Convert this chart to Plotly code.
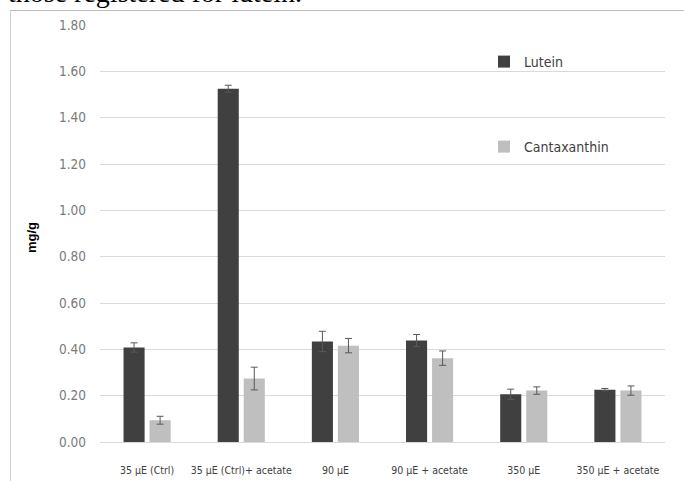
import plotly.graph_objects as go

categories = ["35 µE (Ctrl)", "35 µE (Ctrl)+ acetate", "90 µE", "90 µE + acetate", "350 µE", "350 µE + acetate"]
lutein = [0.408, 1.525, 0.434, 0.438, 0.206, 0.226]
lutein_err = [0.020, 0.015, 0.044, 0.026, 0.022, 0.005]
cantaxanthin = [0.094, 0.274, 0.416, 0.362, 0.222, 0.222]
cantaxanthin_err = [0.017, 0.049, 0.031, 0.031, 0.016, 0.020]
y_ticks = [0.0, 0.2, 0.4, 0.6, 0.8, 1.0, 1.2, 1.4, 1.6, 1.8]
y_tick_labels = ["%.2f" % v for v in y_ticks]

NARROW = "DejaVu Sans Condensed, Liberation Sans Narrow, Arial Narrow, sans-serif"

W, H = 684, 481
L, R, T, B = 100, 19, 25, 39
pw, ph = W - L - R, H - T - B


def px_x(p):
    return (p - L) / pw


def px_y(p):
    return (H - B - p) / ph


fig = go.Figure()
fig.add_trace(go.Bar(
    name="Lutein", x=categories, y=lutein,
    marker=dict(color="#404040", line=dict(width=0)),
    error_y=dict(type="data", array=lutein_err, visible=True, color="#595959", thickness=1, width=3.5),
    legend="legend", showlegend=True,
))
fig.add_trace(go.Bar(
    name="Cantaxanthin", x=categories, y=cantaxanthin,
    marker=dict(color="#bfbfbf", line=dict(width=0)),
    error_y=dict(type="data", array=cantaxanthin_err, visible=True, color="#595959", thickness=1, width=3.5),
    legend="legend2", showlegend=True,
))

fig.update_layout(
    width=W, height=H,
    margin=dict(l=L, r=R, t=T, b=B, pad=0, autoexpand=False),
    paper_bgcolor="white", plot_bgcolor="white",
    showlegend=True,
    barmode="group", bargap=0.447, bargroupgap=0.19,
    font=dict(family=NARROW, size=11, color="#404040"),
    legend=dict(x=px_x(484), y=px_y(62), xanchor="left", yanchor="middle",
                font=dict(family=NARROW, size=14, color="#404040"),
                bgcolor="rgba(0,0,0,0)", itemwidth=30),
    legend2=dict(x=px_x(484), y=px_y(147), xanchor="left", yanchor="middle",
                 font=dict(family=NARROW, size=14, color="#404040"),
                 bgcolor="rgba(0,0,0,0)", itemwidth=30),
    xaxis=dict(
        automargin=False,
        showline=False, showgrid=False, ticks="",
        tickfont=dict(family=NARROW, size=10.5, color="#404040"),
        ticklabelstandoff=20,
    ),
    yaxis=dict(
        automargin=False,
        range=[0, 1.8], tickvals=y_ticks, ticktext=y_tick_labels,
        showgrid=True, gridcolor="#d9d9d9", gridwidth=1,
        zeroline=True, zerolinecolor="#d9d9d9", zerolinewidth=1,
        showline=False, ticks="",
        tickfont=dict(family=NARROW, size=13.5, color="#7a7a7a"),
        ticklabelstandoff=13,
    ),
    shapes=[
        dict(type="line", xref="paper", yref="paper", x0=px_x(10), x1=px_x(684), y0=px_y(10.5), y1=px_y(10.5),
             line=dict(color="#bdbdbd", width=1)),
        dict(type="line", xref="paper", yref="paper", x0=px_x(10.5), x1=px_x(10.5), y0=px_y(10.5), y1=px_y(481),
             line=dict(color="#d0d0d0", width=1)),
    ],
    annotations=[
        dict(text="mg/g", xref="paper", yref="paper", x=px_x(32), y=px_y(238),
             xanchor="center", yanchor="middle", textangle=-90, showarrow=False,
             font=dict(family="Liberation Sans, Arial, sans-serif", size=13, color="black", weight="bold")),
        dict(text="those registered for lutein.", xref="paper", yref="paper", x=px_x(6), y=px_y(10),
             xanchor="left", yanchor="bottom", showarrow=False,
             font=dict(family="Liberation Serif, Times New Roman, serif", size=28, color="black")),
    ],
)

fig.write_html(
    "out.html",
    config={"displayModeBar": False},
    post_script="document.body.style.margin='0';document.body.style.padding='0';document.body.style.overflow='hidden';",
)
